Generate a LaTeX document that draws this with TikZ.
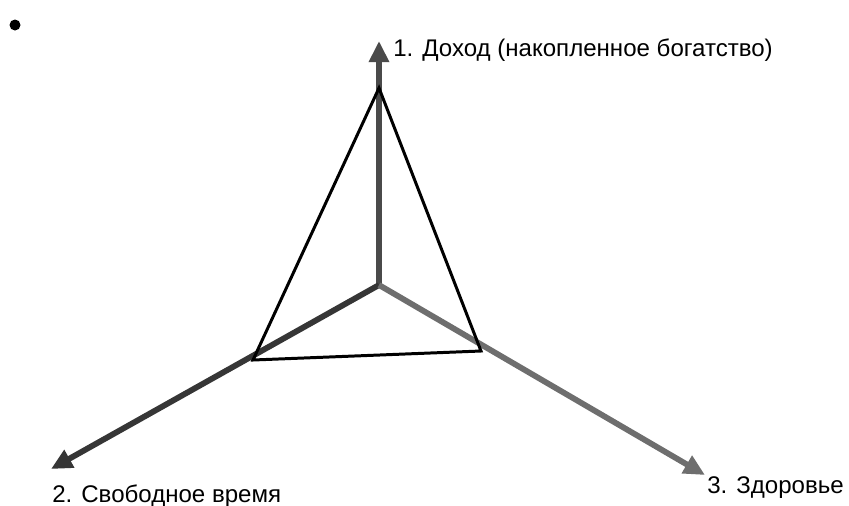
\documentclass[tikz,border=0pt]{standalone}
\usepackage{fontspec}
\setmainfont{Liberation Sans}
\usetikzlibrary{arrows.meta,positioning}
\definecolor{axisup}{HTML}{4A4A4A}
\definecolor{axisleft}{HTML}{363636}
\definecolor{axisright}{HTML}{6E6E6E}

\begin{document}
\begin{tikzpicture}[
  x=0.02cm,y=-0.02cm,
  axis/.style={line width=3.3pt,-{Triangle[length=12pt,width=11pt]}},
  label/.style={font=\fontsize{13.7}{16}\selectfont,inner sep=0pt,anchor=base west},
  tri/.style={line width=1.7pt,draw=black,line join=miter}
]
\useasboundingbox (0,0) rectangle (849,505);
\fill[black] (15,25) circle (5.5);

\coordinate (origin) at (379,285);
\coordinate (income) at (379,41);
\coordinate (leisure) at (51,469);
\coordinate (health) at (705,475);

\draw[axis,draw=axisup,fill=axisup] (origin) -- (income);
\draw[axis,draw=axisleft,fill=axisleft] (origin) -- (leisure);
\draw[axis,draw=axisright,fill=axisright] (origin) -- (health);

\node[label] (incomelabel) at (393,56) {1. Доход (накопленное богатство)};
\node[label] (leisurelabel) at (52,502) {2. Свободное время};
\node[label] (healthlabel) at (707,493) {3. Здоровье};

\coordinate (a) at (379,88);
\coordinate (b) at (253,360);
\coordinate (c) at (481,351);
\draw[tri] (a) -- (b) -- (c) -- cycle;
\end{tikzpicture}
\end{document}
